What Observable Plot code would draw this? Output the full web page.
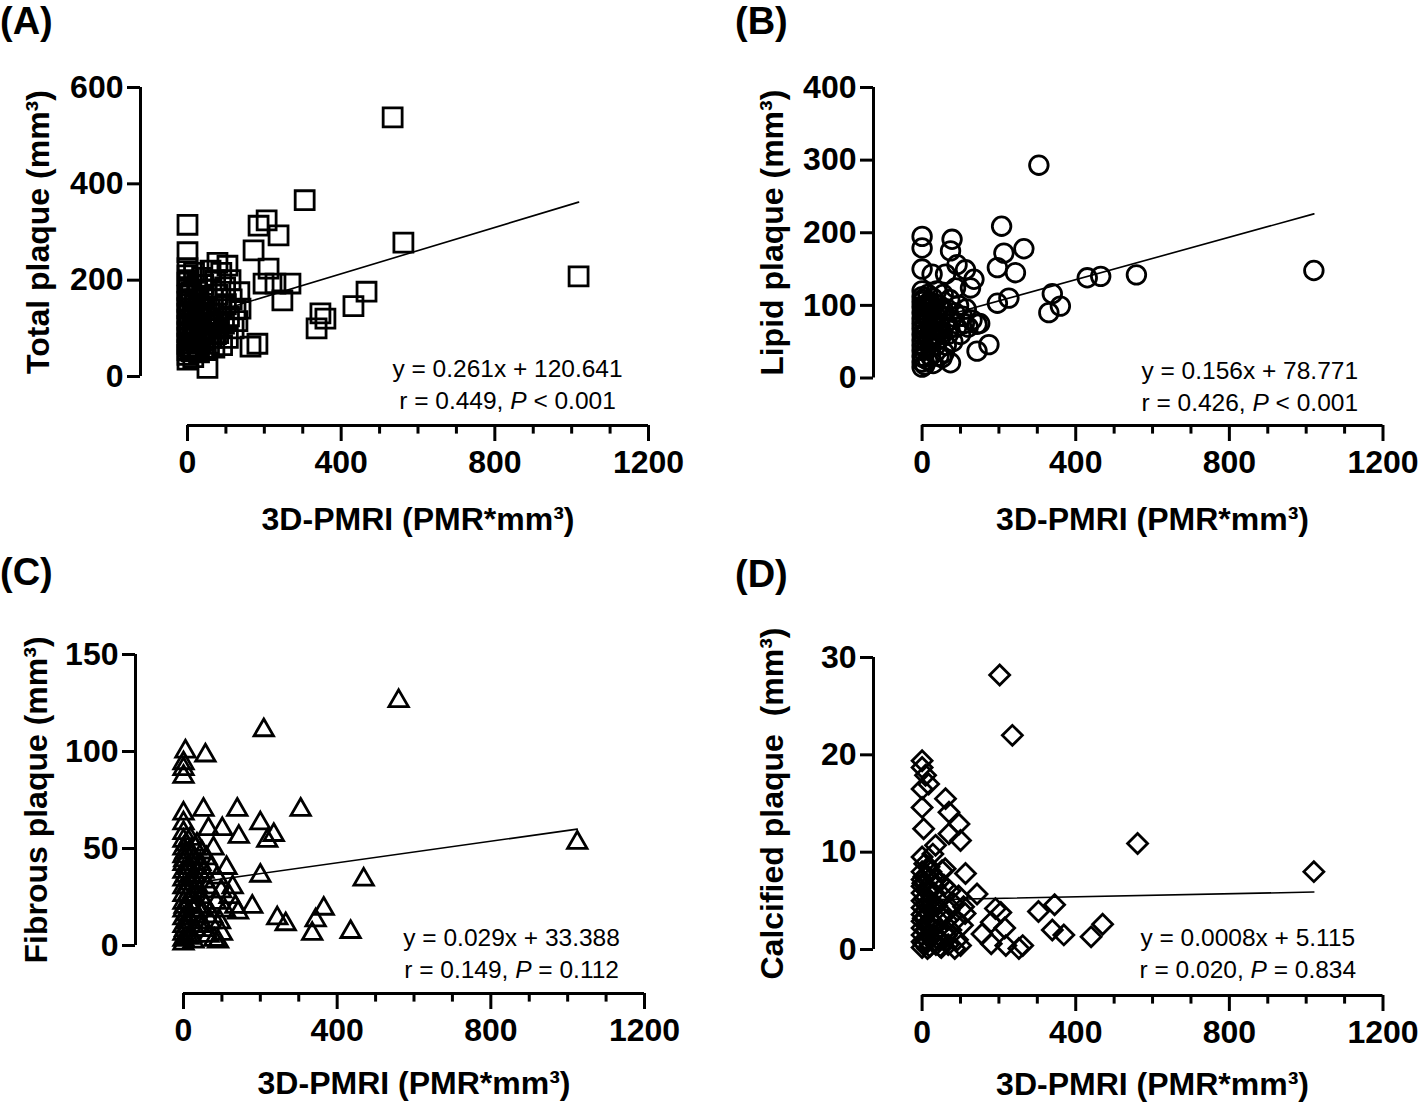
<!DOCTYPE html>
<html><head><meta charset="utf-8">
<script src="https://cdn.jsdelivr.net/npm/d3@7"></script>
<script src="https://cdn.jsdelivr.net/npm/@observablehq/plot@0.6"></script>
<style>
body{margin:0;background:#fff;}
#wrap{position:relative;width:1418px;height:1109px;overflow:hidden;background:#fff;font-family:"Liberation Sans",Arial,sans-serif;}
.panel{position:absolute;}
.letter{position:absolute;font-weight:bold;font-size:38px;line-height:1.15;color:#000;white-space:nowrap;}
</style></head><body><div id="wrap"></div>
<script>
// ---- data ----
const xTicksMajor = [0, 400, 800, 1200];
const xTitle = "3D-PMRI (PMR*mm³)";

// (A) Total plaque
const totalX = [1018,562,534,466,432,359,346,336,305,268,247,237,206,185,172,211,198,229,182,164,138,104,78,52,
  0,0,0,0,0,0,0,0,0,0,0,0,0,0,0,0,0,0,
  3,5,6,8,10,12,14,15,17,19,20,
  22,25,27,30,32,35,38,40,42,45,48,50,
  55,58,60,63,66,70,72,75,78,80,85,88,90,
  95,98,100,105,108,112,115,120,125,130,135,
  2,4,6,8,10,13,16,18,21,24,26,28,31,34,36,39,41,44,47,52,56,62,68,74,82];
const totalY = [208,278,538,176,146,120,131,100,366,193,158,293,324,313,262,224,193,193,68,62,141,230,236,18,
  315,258,225,210,195,180,168,155,142,130,118,105,92,80,68,55,45,35,
  200,150,110,60,175,85,135,40,215,100,160,
  70,190,125,50,145,95,205,165,75,120,55,180,
  100,140,220,80,160,60,200,115,170,90,140,215,65,
  110,185,150,80,125,200,160,100,140,115,175,
  62,88,128,172,52,98,118,148,82,108,58,168,112,72,132,88,190,145,98,120,68,110,130,88,110];
const totalTicks = [0, 200, 400, 600];

// (B) Lipid plaque
const lipidX = [1020,558,465,430,360,339,330,304,265,243,226,213,207,196,196,174,143,143,135,126,113,91,87,78,74,74,61,52,26,0,0,0,
  0,0,0,0,0,0,0,0,0,0,0,0,0,0,0,
  5,8,10,12,15,18,20,22,25,28,30,33,36,38,40,
  45,48,50,55,58,60,65,68,72,75,80,85,90,95,100,105,110,
  115,120,130,150,
  2,3,4,6,7,9,11,13,14,16,19,21,23,26,29,31,34,37,42,44,47,52,57,63,70];
const lipidY = [148,142,140,138,99,116,90,293,178,145,110,172,209,152,103,46,74,37,136,124,149,156,124,191,175,21,143,28,143,195,179,150,
  120,112,105,98,90,82,75,68,60,52,45,38,30,22,15,
  100,70,40,85,115,55,95,30,75,110,60,88,45,120,70,
  100,55,85,115,35,75,95,60,108,80,50,90,70,100,60,85,75,
  95,70,80,75,
  108,28,58,88,18,62,100,48,25,78,105,65,42,92,20,80,102,58,88,30,72,62,92,45,68];
const lipidTicks = [0, 100, 200, 300, 400];

// (C) Fibrous plaque
const fibrousX = [1025,560,469,435,365,344,335,305,266,244,235,218,209,200,200,179,144,140,101,65,57,52,5,0,0,0,0,0,
  0,0,0,0,0,0,0,0,0,0,0,0,0,0,0,0,
  5,8,10,12,15,18,20,22,25,28,30,32,35,38,40,
  45,48,50,55,58,60,65,68,72,75,78,80,85,88,90,95,98,100,
  108,112,120,128,135,142,
  2,3,4,6,7,9,11,13,14,16,19,21,23,26,29,31,34,37,42,44,47,52,57,63,70];
const fibrousY = [53,126,34,7,19,13,6,70,11,14,57,54,111,63,36,20,56,70,60,60,98,70,100,94,91,87,68,63,
  58,54,50,46,42,38,34,30,26,22,18,14,10,6,3,1,
  48,30,12,40,22,55,5,35,18,45,28,8,52,15,38,
  25,48,10,33,20,45,5,28,40,15,50,3,22,35,2,12,28,6,
  18,40,25,30,20,17,
  44,20,8,36,52,16,26,4,48,32,12,42,25,2,36,50,20,30,10,42,18,38,8,30,12];
const fibrousTicks = [0, 50, 100, 150];

// (D) Calcified plaque
const calcX = [1020,561,470,440,369,345,339,303,262,252,235,202,191,143,113,100,96,70,70,61,52,35,17,9,4,0,0,0,0,0,
  205,180,156,215,180,218,108,112,
  0,0,0,0,0,0,0,0,0,0,0,0,
  5,8,10,12,15,18,20,22,25,28,30,33,36,38,40,
  45,48,50,55,58,60,65,68,72,75,80,85,88,92,95,100,105,
  2,3,4,6,7,9,11,13,14,16,19,21,23,26,29,31,34,37,42,44,47,52,57,63,70];
const calcY = [8.0,10.9,2.6,1.3,1.5,4.6,2.0,3.9,0.4,0.1,22,28.2,4.2,5.7,7.8,11.2,12.9,14.1,11.9,15.5,8.1,10.7,17,17.9,12.4,19.4,18.7,16.5,14.6,9.5,
  3.8,2.8,1.6,2.2,0.6,0.4,4.4,3.7,
  8,7.2,6.5,5.8,5,4.3,3.6,2.9,2.2,1.5,0.8,0.2,
  7.5,4,1,6,2.5,8.5,0.3,5,3,9.8,1.5,6.5,0.5,4.5,2,
  7,3.5,0.2,5.5,1.8,8.3,3,0.5,6,2,4.8,0.1,3,1,5.5,0.4,2.5,
  6.8,3.2,0.6,5.2,8.8,2.0,4.6,7.6,0.1,3.8,6.2,1.2,8.0,4.2,0.8,5.8,2.6,7.2,1.0,5.0,0.3,3.3,6.6,1.4,4.0];
const calcTicks = [0, 10, 20, 30];

// fitted lines as drawn: y at the leftmost and rightmost data point
const fitStartY = [117, 77, 31.5, 5.1];
const fitEndY = [362, 226, 60, 5.9];

// texts printed on the chart
const eqTexts = ["y = 0.261x + 120.641", "y = 0.156x + 78.771", "y = 0.029x + 33.388", "y = 0.0008x + 5.115"];
const statTexts = ["r = 0.449, P < 0.001", "r = 0.426, P < 0.001", "r = 0.149, P = 0.112", "r = 0.020, P = 0.834"];
const yLabels = ["Total plaque (mm³)", "Lipid plaque (mm³)", "Fibrous plaque (mm³)", "Calcified plaque\u00a0 (mm³)"];
const letters = ["(A)", "(B)", "(C)", "(D)"];

// ---- layout ----
const panels = [
  {xs: totalX, ys: totalY, ticks: totalTicks, symbol: "square", r: 10.7,
   geo: {left: 0, top: 0, width: 709, height: 555, L: 140, R: 648, T: 87, B: 425, x0: 187, y0: 376},
   annX: 833, annDy: -71, yDx: -102, xDy: 104, letter: {left: 0, top: 0}},
  {xs: lipidX, ys: lipidY, ticks: lipidTicks, symbol: "circle", r: 9.3,
   geo: {left: 709, top: 0, width: 709, height: 555, L: 164, R: 673.5, T: 87, B: 425, x0: 212.6, y0: 377.5},
   annX: 853, annDy: -69, yDx: -101, xDy: 104, letter: {left: 735, top: 0}},
  {xs: fibrousX, ys: fibrousY, ticks: fibrousTicks, symbol: "triangle", r: 7.2,
   geo: {left: 0, top: 555, width: 709, height: 554, L: 135, R: 644, T: 99, B: 438, x0: 183, y0: 390},
   annX: 854, annDy: -70, yDx: -99, xDy: 100, letter: {left: 0, top: 551}},
  {xs: calcX, ys: calcY, ticks: calcTicks, symbol: "diamond2", r: 9.0,
   geo: {left: 709, top: 555, width: 709, height: 554, L: 164, R: 673.5, T: 102, B: 440, x0: 212.6, y0: 394},
   annX: 848, annDy: -72, yDx: -101, xDy: 99, letter: {left: 735, top: 553}}
];

function italicP(svg) {
  const walker = document.createTreeWalker(svg, NodeFilter.SHOW_TEXT);
  const nodes = [];
  while (walker.nextNode()) nodes.push(walker.currentNode);
  for (const n of nodes) {
    const s = n.nodeValue;
    const i = s.indexOf(", P ");
    if (i < 0) continue;
    const parent = n.parentNode;
    const it = document.createElementNS("http://www.w3.org/2000/svg", "tspan");
    it.setAttribute("font-style", "italic");
    it.textContent = "P";
    parent.insertBefore(document.createTextNode(s.slice(0, i + 2)), n);
    parent.insertBefore(it, n);
    parent.insertBefore(document.createTextNode(s.slice(i + 3)), n);
    parent.removeChild(n);
  }
}

const wrap = document.getElementById("wrap");
panels.forEach((p, k) => {
  const g = p.geo;
  const yMax = p.ticks[p.ticks.length - 1];
  const kx = (g.R - g.x0) / 1200;
  const ky = (g.y0 - g.T) / yMax;
  const xMin = -(g.x0 - g.L) / kx;
  const yMin = -(g.B - g.y0) / ky;
  const idx = d3.range(p.xs.length);
  const [xa, xb] = d3.extent(p.xs);
  const fit = [{x: xa, y: fitStartY[k]}, {x: xb, y: fitEndY[k]}];
  const minor = d3.range(100, 1200, 100).filter(t => t % 400 !== 0);
  const plot = Plot.plot({
    width: g.width, height: g.height,
    marginLeft: g.L, marginRight: g.width - g.R, marginTop: g.T, marginBottom: g.height - g.B,
    x: {domain: [xMin, 1200]},
    y: {domain: [yMin, yMax]},
    style: {fontFamily: "'Liberation Sans', Arial, sans-serif", color: "black", background: "white", overflow: "visible"},
    marks: [
      Plot.ruleX([xMin], {y1: () => 0, y2: () => yMax, strokeWidth: 3}),
      Plot.ruleY([yMin], {x1: () => 0, x2: () => 1200, strokeWidth: 3}),
      Plot.axisY({ticks: p.ticks, tickSize: 13, tickPadding: 4, tickFormat: d => String(d), fontSize: 32, fontWeight: "bold", strokeWidth: 3, label: null}),
      Plot.axisX({ticks: minor, tickSize: 8.6, tickFormat: () => "", strokeWidth: 3, label: null}),
      Plot.axisX({ticks: xTicksMajor, tickSize: 16, tickPadding: 9, tickFormat: d => String(d), fontSize: 32, fontWeight: "bold", strokeWidth: 3, label: null}),
      Plot.line(fit, {x: "x", y: "y", strokeWidth: 1.6, stroke: "black"}),
      Plot.dot(idx, {x: i => p.xs[i], y: i => p.ys[i], symbol: p.symbol, r: p.r, stroke: "black", fill: "none", strokeWidth: 2.8, strokeLinejoin: "miter"}),
      Plot.text([eqTexts[k] + "\n" + statTexts[k]], {x: () => p.annX, frameAnchor: "bottom", lineAnchor: "top", dy: p.annDy, fontSize: 24.5, lineHeight: 1.3, fill: "black"}),
      Plot.text([yLabels[k]], {x: () => xMin, y: () => yMax / 2, rotate: -90, dx: p.yDx, fontSize: 32, fontWeight: "bold", fill: "black"}),
      Plot.text([xTitle], {x: () => 600, frameAnchor: "bottom", dy: p.xDy, fontSize: 32, fontWeight: "bold", fill: "black"})
    ]
  });
  italicP(plot);
  plot.classList.add("panel");
  plot.style.left = g.left + "px";
  plot.style.top = g.top + "px";
  plot.style.position = "absolute";
  wrap.appendChild(plot);
  const lab = document.createElement("div");
  lab.className = "letter";
  lab.textContent = letters[k];
  lab.style.left = p.letter.left + "px";
  lab.style.top = p.letter.top + "px";
  wrap.appendChild(lab);
});
</script>
</body></html>
